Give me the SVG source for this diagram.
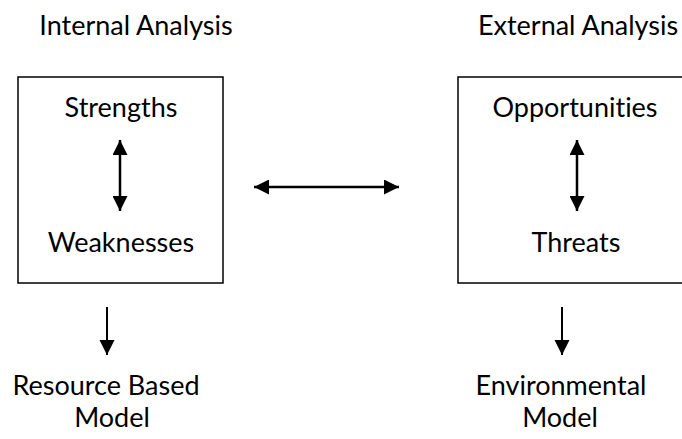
<svg xmlns="http://www.w3.org/2000/svg" width="682" height="439" viewBox="0 0 682 439">
<defs>
<marker id="ah" viewBox="0 0 10 10" refX="10" refY="5" markerWidth="6.5" markerHeight="6" orient="auto-start-reverse" markerUnits="strokeWidth">
<path d="M0,0 L10,5 L0,10 z" fill="#000"/>
</marker>
<marker id="ah2" viewBox="0 0 10 10" refX="10" refY="5" markerWidth="7.5" markerHeight="8" orient="auto-start-reverse" markerUnits="strokeWidth">
<path d="M0,0 L10,5 L0,10 z" fill="#000"/>
</marker>
</defs>
<style>
text{font-family:"Lato","Liberation Sans",sans-serif;font-size:27px;fill:#000;text-anchor:middle;font-variant-ligatures:none}
.box{fill:#fff;stroke:#000;stroke-width:1.5}
.c{stroke:#000;stroke-width:2.5;fill:none}
.d{stroke:#000;stroke-width:2;fill:none}
</style>
<rect width="682" height="439" fill="#fff"/>
<g id="internal-title"><text x="136" y="35">Internal Analysis</text></g>
<g id="external-title"><text x="578" y="35">External Analysis</text></g>
<g id="internal-box">
<rect class="box" x="18" y="77" width="205" height="206"/>
<text x="121" y="117">Strengths</text>
<text x="121" y="252">Weaknesses</text>
</g>
<g id="external-box">
<rect class="box" x="458" y="77" width="240" height="206"/>
<text x="575" y="117">Opportunities</text>
<text x="576" y="252">Threats</text>
</g>
<g id="resource-model"><text x="106" y="395">Resource Based</text><text x="112" y="427">Model</text></g>
<g id="environmental-model"><text x="561" y="395">Environmental</text><text x="560" y="427">Model</text></g>
<g id="connectors">
<line class="c" x1="120" y1="140" x2="120" y2="211" marker-start="url(#ah)" marker-end="url(#ah)"/>
<line class="c" x1="577" y1="140" x2="577" y2="211" marker-start="url(#ah)" marker-end="url(#ah)"/>
<line class="c" x1="254" y1="187" x2="399" y2="187" marker-start="url(#ah)" marker-end="url(#ah)"/>
<line class="d" x1="107" y1="307" x2="107" y2="355" marker-end="url(#ah2)"/>
<line class="d" x1="562" y1="307" x2="562" y2="355" marker-end="url(#ah2)"/>
</g>
</svg>
